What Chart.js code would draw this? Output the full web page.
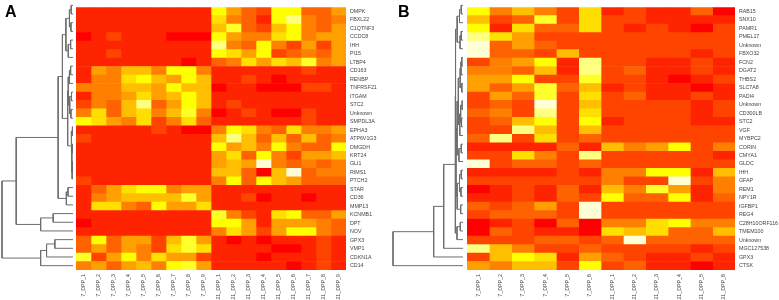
<!DOCTYPE html>
<html>
<head>
<meta charset="utf-8">
<script src="https://cdn.jsdelivr.net/npm/chart.js"></script>
<style>
  body { margin: 0; background: #fff; }
  #wrap { position: relative; width: 779px; height: 300px; overflow: hidden; }
  canvas { position: absolute; top: 0; }
  .tag { position: absolute; top: 3px; font: bold 16px "Liberation Sans", Arial, sans-serif; color: #000; }
</style>
</head>
<body>
<div id="wrap">
  <canvas id="heatA" width="389" height="300" style="left:0"></canvas>
  <canvas id="denA" width="76" height="300" style="left:0"></canvas>
  <canvas id="heatB" width="389" height="300" style="left:390px"></canvas>
  <canvas id="denB" width="77" height="300" style="left:390px"></canvas>
  <div class="tag" style="left:5px">A</div>
  <div class="tag" style="left:398px">B</div>
</div>
<script>
// heat.colors(12) style palette, values below are levels 0..11
const heat = ['#FF0000', '#FF2400', '#FF4400', '#FF6200', '#FF8000', '#FF9F00',
              '#FFBF00', '#FFDF00', '#FFFF00', '#FFFF2A', '#FFFF80', '#FFFFD5'];

// ---- panel A ----
const colsA = ['7_DPP_1', '7_DPP_2', '7_DPP_3', '7_DPP_4', '7_DPP_5', '7_DPP_6', '7_DPP_7', '7_DPP_8', '7_DPP_9',
               '21_DPP_1', '21_DPP_2', '21_DPP_3', '21_DPP_4', '21_DPP_5', '21_DPP_6', '21_DPP_7', '21_DPP_8', '21_DPP_9'];
const genesA = ['DMPK', 'FBXL22', 'C1QTNF3', 'CCDC8', 'IHH', 'PI15', 'LTBP4', 'CD163', 'RENBP', 'TNFRSF21',
                'ITGAM', 'STC2', 'Unknown', 'SMPDL3A', 'EPHA3', 'ATP6V1G3', 'DMGDH', 'KRT24', 'GLI1', 'RIMS1',
                'PTCH2', 'STAR', 'CD36', 'MMP13', 'KCNMB1', 'DPT', 'NOV', 'GPX3', 'VMP1', 'CDKN1A', 'CD14'];
const valsA = [
  [1,1,1,1,1,1,1,1,1, 8,5,3,2,8,8,3,3,5],
  [1,1,1,1,1,1,1,1,1, 7,4,3,1,8,10,4,3,4],
  [1,1,1,1,1,1,1,1,1, 6,9,3,2,6,8,4,3,5],
  [0,1,2,1,1,1,0,0,0, 8,5,4,4,7,8,4,5,5],
  [1,1,1,1,1,1,1,1,1, 10,4,3,8,4,2,5,2,5],
  [1,1,2,1,1,1,1,1,1, 8,7,5,8,2,3,4,3,5],
  [1,1,1,1,1,1,1,0,1, 3,4,7,5,7,6,9,4,5],
  [1,5,4,6,6,4,8,8,4, 1,1,1,1,1,1,2,1,1],
  [1,4,4,7,8,6,5,8,6, 1,1,2,1,0,1,1,1,1],
  [4,4,4,6,6,5,8,6,6, 0,1,1,0,0,0,2,2,1],
  [1,4,4,5,7,5,6,8,6, 1,1,1,1,1,1,1,1,1],
  [2,4,3,6,10,3,5,8,6, 1,2,1,1,1,1,1,1,1],
  [4,7,3,6,7,4,6,9,4, 0,1,2,1,0,0,2,1,1],
  [8,7,5,4,7,2,4,7,3, 1,1,1,1,1,1,2,1,1],
  [1,1,1,1,1,2,1,0,0, 4,8,7,4,3,7,4,4,5],
  [2,1,1,1,1,1,1,1,1, 6,10,6,3,6,3,6,3,4],
  [1,1,1,1,1,1,1,1,1, 8,5,6,4,8,4,3,3,8],
  [1,1,1,1,1,1,1,1,1, 5,7,3,8,4,2,5,5,6],
  [1,1,1,1,1,1,1,1,1, 5,6,5,11,4,3,4,3,4],
  [1,1,1,1,1,1,1,1,1, 6,6,3,0,6,11,3,4,4],
  [2,1,1,1,1,1,1,1,1, 4,8,3,8,6,5,3,3,3],
  [1,3,5,7,8,8,4,5,5, 1,1,1,1,1,1,1,1,1],
  [1,4,5,6,6,6,6,9,5, 1,1,2,0,1,1,0,1,1],
  [1,7,7,4,3,8,5,5,7, 1,1,1,1,1,1,1,1,1],
  [1,1,1,1,1,1,1,1,1, 9,4,2,1,7,8,3,3,5],
  [0,1,1,1,1,1,1,1,1, 8,8,5,1,5,5,5,4,3],
  [1,1,1,1,1,1,1,1,1, 4,7,5,2,5,8,8,4,3],
  [3,8,3,5,5,2,6,9,5, 1,0,1,0,1,1,1,2,1],
  [3,5,3,5,4,2,7,9,7, 1,1,1,1,0,0,1,2,1],
  [9,2,5,8,4,7,5,5,2, 1,1,1,0,1,1,1,2,1],
  [4,5,3,5,6,4,8,9,5, 1,1,1,1,1,0,1,2,1]
];
// hclust style merges: negative = leaf (1-based row), positive = earlier merge, then height
const mergesA = [
  [-1, -2, 0.3], [-3, -4, 0.35], [1, 2, 0.6], [-5, -6, 0.4], [4, -7, 0.8], [3, 5, 1.2],
  [-8, -9, 0.4], [7, -10, 0.6], [-11, -12, 0.25], [-13, -14, 0.35], [9, 10, 0.55], [8, 11, 0.8],
  [-15, -16, 0.1], [-17, -18, 0.12], [-19, -20, 0.08], [15, -21, 0.15], [14, 16, 0.2], [13, 17, 0.3],
  [12, 18, 0.9], [6, 19, 1.79], [-22, -23, 0.84], [21, -24, 1.12], [20, 22, 2.51],
  [-25, -26, 3.35], [24, -27, 5.47], [23, 25, 9.6],
  [-28, -29, 3.07], [27, -30, 4.47], [28, -31, 5.47], [26, 29, 12]
];

// ---- panel B ----
const colsB = ['7_DPP_1', '7_DPP_2', '7_DPP_3', '7_DPP_4', '7_DPP_5', '7_DPP_6',
               '21_DPP_1', '21_DPP_2', '21_DPP_3', '21_DPP_4', '21_DPP_5', '21_DPP_6'];
const genesB = ['RAB15', 'SNX10', 'PAMR1', 'PMEL17', 'Unknown', 'FBXO32', 'FCN2', 'DGAT2', 'THBS2', 'SLC7A8',
                'PADI4', 'Unknown', 'CD300LB', 'STC2', 'VGF', 'MYBPC2', 'CORIN', 'CMYA1', 'GLDC', 'IHH',
                'GFAP', 'REM1', 'NPY1R', 'IGFBP1', 'REG4', 'C28H10ORF116', 'TMEM100', 'Unknown',
                'MGC127538', 'GPX3', 'CTSK'];
const valsB = [
  [8,4,6,4,2,7, 1,2,1,1,3,0],
  [6,2,3,9,2,7, 2,2,1,1,1,1],
  [8,1,7,3,3,7, 2,1,2,1,0,2],
  [10,7,5,2,2,2, 2,2,2,2,2,2],
  [11,3,5,3,2,2, 2,2,2,2,2,2],
  [11,3,3,2,6,2, 2,2,2,2,1,2],
  [2,4,5,8,1,10, 2,2,1,1,2,1],
  [4,4,3,6,1,10, 2,3,1,1,2,1],
  [5,5,8,2,2,9, 2,2,1,0,1,2],
  [5,3,5,9,3,6, 1,2,1,1,0,1],
  [2,5,3,9,2,7, 2,3,1,1,2,1],
  [2,3,2,11,2,6, 2,2,2,2,1,2],
  [3,4,2,10,2,7, 2,2,2,2,1,2],
  [2,3,6,8,2,8, 1,2,2,2,1,1],
  [2,2,10,6,2,6, 2,2,2,2,2,2],
  [3,10,2,7,2,3, 2,2,2,2,2,2],
  [1,1,1,1,3,1, 6,4,5,8,2,4],
  [2,2,7,4,2,10, 2,2,2,2,2,1],
  [11,2,3,3,2,3, 2,2,2,2,2,2],
  [1,1,1,1,2,1, 4,4,8,8,1,6],
  [2,2,2,2,2,2, 4,2,2,11,2,4],
  [0,1,2,1,3,1, 6,4,9,5,1,4],
  [1,1,2,1,3,2, 8,3,3,8,1,3],
  [3,2,3,5,2,11, 2,2,2,2,2,2],
  [2,3,3,3,2,11, 2,2,2,2,2,2],
  [0,1,2,0,3,0, 4,4,7,8,4,4],
  [0,3,2,1,1,0, 7,6,7,3,3,6],
  [2,2,2,3,3,2, 3,11,3,3,3,3],
  [10,6,4,2,2,3, 2,2,2,2,1,2],
  [2,6,8,7,1,5, 3,2,1,1,2,1],
  [5,4,6,6,2,8, 2,3,1,1,0,1]
];
const mergesB = [
  [-1, -2, 0.3], [1, -3, 0.6], [-4, -5, 0.3], [3, -6, 0.5], [2, 4, 1.0],
  [-7, -8, 0.2], [6, -9, 0.35], [-10, -11, 0.2], [7, 8, 0.5], [-12, -13, 0.15], [-14, -15, 0.25],
  [10, 11, 0.4], [12, -16, 0.55], [9, 13, 0.8], [-17, -18, 0.3], [15, -19, 0.7], [14, 16, 1.0],
  [-20, -21, 0.3], [-22, -23, 0.35], [18, 19, 0.6], [-24, -25, 0.4], [20, 21, 1.0], [17, 22, 1.2],
  [5, 23, 1.28], [-26, -27, 0.46], [25, -28, 1.03], [24, 26, 1.31],
  [27, -29, 3.31], [28, -30, 5.03], [29, -31, 12]
];

const txt = '#444';
const font = { family: '"Liberation Sans", Arial, sans-serif', size: 5.3 };

function heatChart(id, genes, cols, vals, padLeft, axisW) {
  const datasets = cols.map((c, j) => ({
    label: c,
    data: genes.map(() => [j, j + 1]),
    backgroundColor: vals.map(row => heat[row[j]]),
    grouped: false,
    barPercentage: 1,
    categoryPercentage: 1,
    borderWidth: 0
  }));
  return new Chart(document.getElementById(id), {
    type: 'bar',
    data: { labels: genes, datasets: datasets },
    options: {
      indexAxis: 'y',
      responsive: false,
      animation: false,
      layout: { padding: { left: padLeft, top: 1, right: 0, bottom: 0 } },
      plugins: { legend: { display: false }, tooltip: { enabled: false } },
      scales: {
        x: {
          type: 'linear', min: 0, max: cols.length,
          grid: { display: false, drawTicks: false }, border: { display: false },
          afterBuildTicks: s => { s.ticks = cols.map((c, i) => ({ value: i + 0.5 })); },
          afterFit: s => { s.height = 30; },
          ticks: { autoSkip: false, minRotation: 90, maxRotation: 90, padding: 4, font: font, color: txt,
                   callback: (v, i) => cols[i] }
        },
        y: {
          position: 'right',
          grid: { display: false, drawTicks: false }, border: { display: false },
          afterFit: s => { s.width = axisW; },
          ticks: { autoSkip: false, padding: 4, font: font, color: txt }
        }
      }
    }
  });
}

function dendroChart(id, merges, n, pad) {
  const pos = [], ht = [], pts = [];
  const node = k => k < 0 ? { y: -k - 1, h: 0 } : { y: pos[k - 1], h: ht[k - 1] };
  merges.forEach(([a, b, h], i) => {
    const A = node(a), B = node(b);
    pts.push({ x: A.h, y: A.y }, { x: h, y: A.y }, { x: h, y: B.y }, { x: B.h, y: B.y }, { x: null, y: null });
    pos[i] = (A.y + B.y) / 2;
    ht[i] = h;
  });
  const maxH = Math.max(...ht);
  return new Chart(document.getElementById(id), {
    type: 'scatter',
    data: { datasets: [{ data: pts, showLine: true, spanGaps: false, pointRadius: 0,
                         borderColor: '#6e6e6e', borderWidth: 1, clip: false }] },
    options: {
      responsive: false,
      animation: false,
      layout: { padding: { left: pad[0], right: pad[1], top: 1, bottom: 30 } },
      plugins: { legend: { display: false }, tooltip: { enabled: false } },
      scales: {
        x: { type: 'linear', min: 0, max: maxH, reverse: true, display: false },
        y: { type: 'linear', min: -0.5, max: n - 0.5, reverse: true, display: false }
      }
    }
  });
}

heatChart('heatA', genesA, colsA, valsA, 76, 43);
heatChart('heatB', genesB, colsB, valsB, 77, 44);
dendroChart('denA', mergesA, genesA.length, [2, 3]);
dendroChart('denB', mergesB, genesB.length, [3, 4]);
</script>
</body>
</html>
